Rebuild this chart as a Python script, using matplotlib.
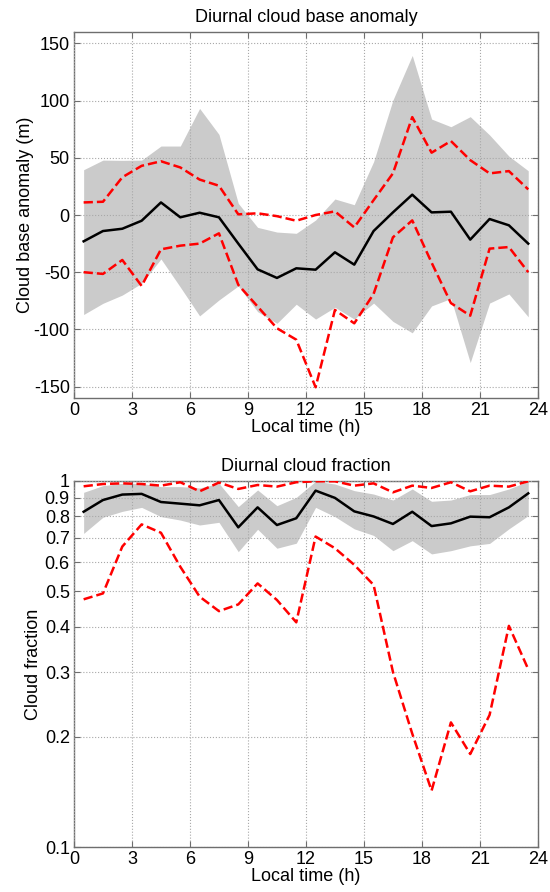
#!/usr/bin/env python3

import numpy as np
import matplotlib.pyplot as plt

plt.rcParams['font.family'] = ['Liberation Sans', 'DejaVu Sans']
plt.rcParams['axes.unicode_minus'] = False

hours = np.arange(0.5, 24, 1.0)

# Cloud base anomaly (m)
cb_mean = [-23, -14, -12, -5, 11, -2, 2, -2, -25, -47.5, -55, -46.6,
           -47.8, -32.6, -43.4, -14, 2.3, 17.8, 2.3, 2.9, -21.5, -3.5, -9, -25]
cb_red_hi = [11, 11.6, 33, 43, 47, 41.6, 31, 25.6, 0.6, 1.5, -1, -5,
             0, 3.2, -10.8, 13, 36.4, 85.6, 54.5, 64.7, 48, 36.4, 38.4, 22.4]
cb_red_lo = [-50, -51.5, -39.3, -62, -30, -26.8, -25, -16, -61, -80, -99, -109,
             -150.6, -83, -94.7, -69, -19.5, -4.7, -41.6, -77, -88, -29.4, -28, -50]
cb_band_hi = [39.6, 48, 47.8, 48, 60.3, 60.3, 93.2, 70.5, 10.2, -10.8, -14.9, -16,
              -4.4, 14, 9, 46.6, 100.5, 139.5, 83.9, 77.2, 86, 70, 51.5, 38.7]
cb_band_lo = [-87, -77.2, -70, -59.7, -38.4, -63, -88.2, -74.3, -62, -84.5, -94.7, -78,
              -91, -80.7, -91, -77, -93, -103, -79.5, -73, -129, -77, -69, -89]

# Cloud fraction
cf_mean = [0.824, 0.887, 0.918, 0.922, 0.876, 0.867, 0.858, 0.887, 0.747, 0.847,
           0.758, 0.791, 0.941, 0.899, 0.826, 0.80, 0.763, 0.824, 0.753, 0.766,
           0.799, 0.796, 0.847, 0.925]
cf_red_hi = [0.967, 0.981, 0.985, 0.981, 0.971, 0.992, 0.937, 0.99, 0.951, 0.975,
             0.965, 0.992, 0.998, 0.998, 0.971, 0.985, 0.931, 0.971, 0.957, 0.992,
             0.937, 0.971, 0.965, 0.998]
cf_red_lo = [0.475, 0.493, 0.662, 0.761, 0.722, 0.583, 0.483, 0.441, 0.46, 0.525,
             0.473, 0.411, 0.705, 0.655, 0.59, 0.52, 0.301, 0.204, 0.1426, 0.219,
             0.1795, 0.2295, 0.402, 0.306]
cf_band_hi = [0.931, 0.971, 0.985, 0.985, 0.965, 0.965, 0.957, 0.985, 0.851, 0.945,
              0.856, 0.902, 0.998, 0.981, 0.941, 0.921, 0.887, 0.951, 0.880, 0.887,
              0.918, 0.918, 0.951, 0.998]
cf_band_lo = [0.719, 0.796, 0.826, 0.847, 0.799, 0.782, 0.758, 0.771, 0.641, 0.738,
              0.655, 0.676, 0.847, 0.799, 0.74, 0.71, 0.645, 0.687, 0.632, 0.645,
              0.665, 0.675, 0.74, 0.804]

x_ticks = [0, 3, 6, 9, 12, 15, 18, 21, 24]
cf_ticks = [0.1, 0.2, 0.3, 0.4, 0.5, 0.6, 0.7, 0.8, 0.9, 1.0]
cf_tick_labels = ['0.1', '0.2', '0.3', '0.4', '0.5', '0.6', '0.7', '0.8', '0.9', '1']

FS = 13
FRAME = '#6e6e6e'


def style_axes(ax):
    ax.grid(True, linestyle=':', color='#a8a8a8', linewidth=0.8)
    ax.set_axisbelow(False)
    for sp in ax.spines.values():
        sp.set_color(FRAME)
        sp.set_linewidth(1.0)
    ax.tick_params(direction='in', top=True, right=True, length=4,
                   color=FRAME, labelsize=FS, pad=3)
    ax.tick_params(which='minor', left=False, right=False)
    ax.set_xlim(0, 24)
    ax.set_xticks(x_ticks)
    ax.set_xlabel('Local time (h)', fontsize=FS, labelpad=0)


def plot_panel(ax, band_lo, band_hi, red_lo, red_hi, mean):
    ax.fill_between(hours, band_lo, band_hi, color='#cbcbcb', linewidth=0, zorder=1)
    ax.plot(hours, red_hi, '--', color='#ff0000', linewidth=1.8, zorder=3)
    ax.plot(hours, red_lo, '--', color='#ff0000', linewidth=1.8, zorder=3)
    ax.plot(hours, mean, '-', color='black', linewidth=1.8, zorder=4)


def main():
    fig = plt.figure(figsize=(5.5, 8.92), dpi=100)

    ax1 = fig.add_axes([0.1345, 0.5538, 0.8435, 0.4103])
    plot_panel(ax1, cb_band_lo, cb_band_hi, cb_red_lo, cb_red_hi, cb_mean)
    style_axes(ax1)
    ax1.set_ylim(-160, 160)
    ax1.set_yticks([-150, -100, -50, 0, 50, 100, 150])
    ax1.set_ylabel('Cloud base anomaly (m)', fontsize=FS, labelpad=0)
    ax1.set_title('Diurnal cloud base anomaly', fontsize=FS, pad=7)

    ax2 = fig.add_axes([0.1345, 0.0504, 0.8435, 0.4104])
    plot_panel(ax2, cf_band_lo, cf_band_hi, cf_red_lo, cf_red_hi, cf_mean)
    ax2.set_yscale('log')
    style_axes(ax2)
    ax2.set_ylim(0.1, 1.0)
    ax2.set_yticks(cf_ticks)
    ax2.set_yticklabels(cf_tick_labels)
    ax2.minorticks_off()
    ax2.set_ylabel('Cloud fraction', fontsize=FS, labelpad=2)
    ax2.set_title('Diurnal cloud fraction', fontsize=FS, pad=7)

    fig.savefig('out.png', dpi=100)


if __name__ == "__main__":
    main()
